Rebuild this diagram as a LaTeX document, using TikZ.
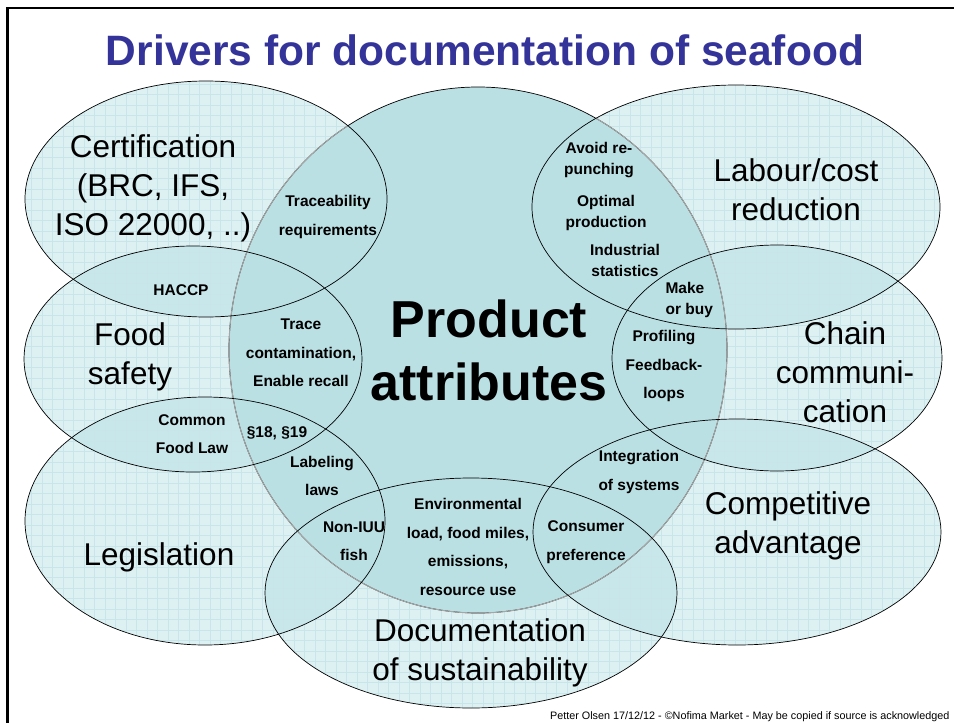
\documentclass[tikz,border=0pt]{standalone}
\usepackage{fontspec}
\setmainfont{Liberation Sans}
\usetikzlibrary{positioning}
\definecolor{titleblue}{RGB}{51,51,153}
\definecolor{venn}{RGB}{168,216,222}
\definecolor{core}{RGB}{186,224,228}
\definecolor{gridcyan}{RGB}{200,230,234}
\tikzset{
  driver/.style = {fill=venn, fill opacity=0.39},
  rim/.style = {draw=black, line width=0.7pt},
  big/.style = {font=\fontsize{31.5}{39}\selectfont, align=center},
  attr/.style = {font=\bfseries\fontsize{15.5}{28.5}\selectfont, align=center},
  attrtight/.style = {attr, font=\bfseries\fontsize{15.5}{21}\selectfont}
}

\begin{document}
\begin{tikzpicture}[x=1pt,y=-1pt]
  \useasboundingbox (0,0) rectangle (954,723);
  % centres of the circles
  \coordinate (cert) at (206,199);
  \coordinate (food) at (193,359);
  \coordinate (legis) at (205,521);
  \coordinate (sust) at (471,593);
  \coordinate (comp) at (737,532);
  \coordinate (chain) at (777,358);
  \coordinate (labour) at (736,207);
  \coordinate (prod) at (478,350);
  % outer drivers
  \fill[driver] (cert) ellipse (181 and 118);
  \fill[driver] (food) ellipse (169 and 113);
  \fill[driver] (legis) ellipse (180 and 124);
  \fill[driver] (sust) ellipse (206 and 115);
  \fill[driver] (comp) ellipse (204 and 113);
  \fill[driver] (chain) ellipse (165 and 113);
  \fill[driver] (labour) ellipse (204 and 122);
  \begin{scope}
    \clip (cert) ellipse (181 and 118) (food) ellipse (169 and 113)
          (legis) ellipse (180 and 124) (sust) ellipse (206 and 115)
          (comp) ellipse (204 and 113) (chain) ellipse (165 and 113)
          (labour) ellipse (204 and 122);
    \foreach \gx in {0,10.5,...,954} \draw[gridcyan,line width=0.4pt] (\gx,0) -- (\gx,723);
    \foreach \gy in {0,10.5,...,723} \draw[gridcyan,line width=0.4pt] (0,\gy) -- (954,\gy);
  \end{scope}
  % product attributes in the middle
  \fill[core] (prod) ellipse (249 and 263);
  \draw[rim] (prod) ellipse (249 and 263);
  \begin{scope}
    \clip (cert) ellipse (181 and 118) (food) ellipse (169 and 113)
          (legis) ellipse (180 and 124) (sust) ellipse (206 and 115)
          (comp) ellipse (204 and 113) (chain) ellipse (165 and 113)
          (labour) ellipse (204 and 122);
    \draw[gray!70,line width=1pt] (prod) ellipse (249 and 263);
  \end{scope}
  \draw[rim] (cert) ellipse (181 and 118);
  \draw[rim] (food) ellipse (169 and 113);
  \draw[rim] (legis) ellipse (180 and 124);
  \draw[rim] (sust) ellipse (206 and 115);
  \draw[rim] (comp) ellipse (204 and 113);
  \draw[rim] (chain) ellipse (165 and 113);
  \draw[rim] (labour) ellipse (204 and 122);
  % slide frame
  \draw[line width=2.6pt] (7.5,723) -- (7.5,8) -- (954,8);
  \node[anchor=base, text=titleblue, font=\bfseries\fontsize{42.5}{50}\selectfont] (title) at (485,65) {Drivers for documentation of seafood};
  % driver names
  \node[big] (certlbl) at (153,188) {Certification\\(BRC, IFS,\\ISO 22000, ..)};
  \node[big] (foodlbl) at (130,357) {Food\\safety};
  \node[big, anchor=base] (legislbl) at (159,565) {Legislation};
  \node[big] (sustlbl) at (480,653) {Documentation\\of sustainability};
  \node[big] (complbl) at (788,526) {Competitive\\advantage};
  \node[big] (chainlbl) at (845,372) {Chain\\communi-\\cation};
  \node[big] (labourlbl) at (796,190) {Labour/cost\\reduction};
  \node[font=\bfseries\fontsize{52}{63}\selectfont, align=center] (prodlbl) at (489,350) {Product\\attributes};
  % overlaps
  \node[attr] (trace) at (328,217) {Traceability\\requirements};
  \node[attr, anchor=base] (haccp) at (181,295) {HACCP};
  \node[attr] (recall) at (301,353) {Trace\\contamination,\\Enable recall};
  \node[attr, anchor=base] (para) at (277,437) {§18, §19};
  \node[attr] (label) at (322,476) {Labeling\\laws};
  \node[attr] (cfl) at (192,434) {Common\\Food Law};
  \node[attr] (iuu) at (354,541) {Non-IUU\\fish};
  \node[attr] (env) at (468,547) {Environmental\\load, food miles,\\emissions,\\resource use};
  \node[attr] (cons) at (586,542) {Consumer\\preference};
  \node[attr] (integ) at (639,472) {Integration\\of systems};
  \node[attrtight] (punch) at (599,160) {Avoid re-\\punching};
  \node[attrtight] (optim) at (606,213) {Optimal\\production};
  \node[attrtight] (stats) at (625,260) {Industrial\\statistics};
  \node[attrtight, align=left, anchor=west] (make) at (662,300) {Make\\or buy};
  \node[attr] (profil) at (664,366) {Profiling\\Feedback-\\loops};
  \node[anchor=base east, font=\fontsize{10.8}{12}\selectfont] (foot) at (953,719) {Petter Olsen 17/12/12 - ©Nofima Market - May be copied if source is acknowledged};
\end{tikzpicture}
\end{document}
